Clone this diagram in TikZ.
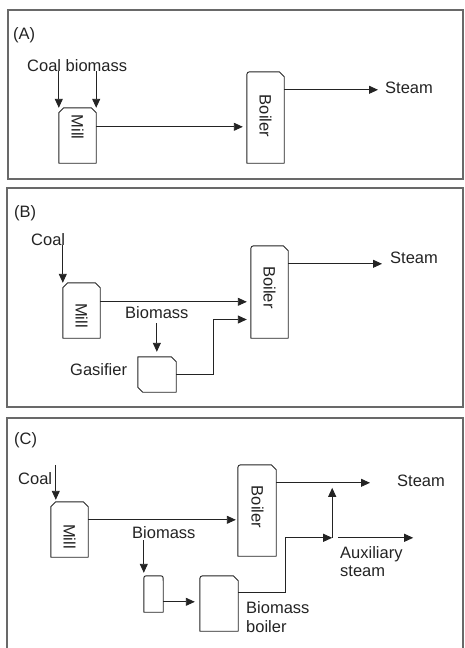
\documentclass[tikz,border=0pt]{standalone}
\usepackage{fontspec}
\setmainfont{Liberation Sans}
\usetikzlibrary{arrows.meta,calc,positioning}
\definecolor{framegray}{RGB}{105,105,105}
\definecolor{linegray}{RGB}{35,35,35}
\newcommand{\chamfertop}[1]{\draw[unitline] (#1.south west) -- ($(#1.north west)+(0,5)$) -- ($(#1.north west)+(5,0)$) -- ($(#1.north east)+(-5,0)$) -- ($(#1.north east)+(0,5)$) -- (#1.south east) -- cycle;}
\newcommand{\roundchamfer}[1]{\draw[unitline] (#1.south west) -- ($(#1.north west)+(0,6)$) .. controls (#1.north west) .. ($(#1.north west)+(6,0)$) -- ($(#1.north east)+(-5,0)$) -- ($(#1.north east)+(0,5)$) -- (#1.south east) -- cycle;}
\newcommand{\roundtop}[1]{\draw[unitline] (#1.south west) -- ($(#1.north west)+(0,5)$) .. controls (#1.north west) .. ($(#1.north west)+(5,0)$) -- ($(#1.north east)+(-5,0)$) .. controls (#1.north east) .. ($(#1.north east)+(0,5)$) -- (#1.south east) -- cycle;}
\newcommand{\gasshape}[1]{\draw[unitline] (#1.north west) -- ($(#1.north east)+(-5,0)$) -- ($(#1.north east)+(0,5)$) -- (#1.south east) -- ($(#1.south west)+(5,0)$) -- ($(#1.south west)+(0,-5)$) -- cycle;}

\begin{document}
\begin{tikzpicture}[x=1pt, y=-1pt,
    every node/.style={font=\fontsize{16.5}{18.5}\selectfont, text=linegray},
    panel/.style={draw=framegray, line width=1.2pt},
    unit/.style={rectangle, inner sep=0pt, minimum width=37pt},
    unitline/.style={draw=linegray, line width=0.9pt, line join=round},
    vtext/.style={rotate=-90, inner sep=0pt},
    tag/.style={inner sep=0pt, anchor=base west},
    flow/.style={draw=linegray, line width=0.9pt, -{Triangle[length=9pt,width=8pt]}}]
  \useasboundingbox (0,0) rectangle (464,648);
  \draw[panel] (8,10) rectangle (463,179);
  \draw[panel] (7,188) rectangle (463,407);
  \draw[panel] (7,650) -- (7,418) -- (463,418) -- (463,650);

  % (A)
  \node[tag] (labA) at (13,39.5) {(A)};
  \node[tag] (feedA) at (27,71) {Coal biomass};
  \node[unit, minimum height=55pt] (millA) at (77.5,135.5) {};
  \node[unit, minimum height=91pt] (boilerA) at (265.5,117.5) {};
  \chamfertop{millA}
  \roundchamfer{boilerA}
  \node[vtext] (millAtxt) at (77.5,127) {Mill};
  \node[vtext] (boilerAtxt) at (265.5,116) {Boiler};
  \node[tag] (steamA) at (385,93) {Steam};
  \draw[flow] (feedA.south -| millA.west) -- (millA.north west);
  \draw[flow] (feedA.south -| millA.east) -- (millA.north east);
  \coordinate (mAout) at ($(millA.north east)+(0,19)$);
  \coordinate (bAout) at ($(boilerA.north east)+(0,18)$);
  \draw[flow, shorten >=4pt] (mAout) -- (mAout -| boilerA.west);
  \draw[flow, shorten >=7pt] (bAout) -- (bAout -| steamA.west);

  % (B)
  \node[tag] (labB) at (14,217) {(B)};
  \node[tag] (coalB) at (31,245) {Coal};
  \node[unit, minimum height=55pt] (millB) at (81.5,310.5) {};
  \node[unit, minimum height=92pt] (boilerB) at (269.5,292) {};
  \node[unit, minimum width=38pt, minimum height=35pt] (gasB) at (157,374.5) {};
  \chamfertop{millB}
  \roundchamfer{boilerB}
  \gasshape{gasB}
  \node[vtext] (millBtxt) at (81.5,315.5) {Mill};
  \node[vtext] (boilerBtxt) at (269.5,287.5) {Boiler};
  \node[tag] (steamB) at (390,263) {Steam};
  \node[tag] (bioB) at (125,318) {Biomass};
  \node[tag] (gasBlab) at (70,375) {Gasifier};
  \draw[flow] (millB.north west |- coalB.south) -- (millB.north west);
  \coordinate (mBout) at ($(millB.north east)+(0,19)$);
  \coordinate (bBout) at ($(boilerB.north east)+(0,18)$);
  \coordinate (gBbend) at ($(gasB.east)+(37,-55)$);
  \draw[flow, shorten >=4pt] (mBout) -- (mBout -| boilerB.west);
  \draw[flow, shorten >=8pt] (bBout) -- (bBout -| steamB.west);
  \draw[flow, shorten <=5pt, shorten >=5pt] (bioB.south) -- (bioB.south |- gasB.north);
  \draw[flow, shorten >=4pt] (gasB.east) -| (gBbend) -- (gBbend -| boilerB.west);

  % (C)
  \node[tag] (labC) at (14,444) {(C)};
  \node[tag] (coalC) at (18,484) {Coal};
  \node[unit, minimum height=55pt] (millC) at (69.5,529.5) {};
  \node[unit, minimum width=38pt, minimum height=91pt] (boilerC) at (257,510.5) {};
  \node[unit, minimum width=19pt, minimum height=36pt] (prepC) at (153.5,594) {};
  \node[unit, minimum width=38pt, minimum height=55pt] (bboilC) at (219,603.5) {};
  \chamfertop{millC}
  \roundchamfer{boilerC}
  \roundtop{prepC}
  \roundchamfer{bboilC}
  \node[vtext] (millCtxt) at (69.5,536.5) {Mill};
  \node[vtext] (boilerCtxt) at (257.5,507) {Boiler};
  \node[tag] (steamC) at (397,486.5) {Steam};
  \node[tag] (bioC) at (132,538) {Biomass};
  \node[tag, anchor=north west, align=left] (bbC) at (246,601.5) {Biomass\\boiler};
  \node[tag, anchor=north west, align=left] (auxC) at (340,546) {Auxiliary\\steam};
  \coordinate (cCin) at ($(millC.north west)+(5,-37)$);
  \coordinate (mCout) at ($(millC.north east)+(0,18)$);
  \coordinate (bCout) at ($(boilerC.north east)+(0,18)$);
  \coordinate (pCout) at ($(prepC.north east)+(0,26)$);
  \coordinate (bbCout) at ($(bboilC.north east)+(0,17)$);
  \coordinate (riseC) at ($(bbCout)+(47,0)$);
  \coordinate (mixC) at ($(bbCout)+(94,-55)$);
  \coordinate (auxCend) at ($(mixC)+(81,0)$);
  \draw[flow, shorten >=2pt] (cCin) -- (cCin |- millC.north);
  \draw[flow, shorten >=2pt] (mCout) -- (mCout -| boilerC.west);
  \draw[flow, shorten >=27pt] (bCout) -- (bCout -| steamC.west);
  \draw[flow, shorten <=2pt, shorten >=3pt] (prepC.north west |- bioC.south) -- (prepC.north west);
  \draw[flow, shorten >=5pt] (pCout) -- (pCout -| bboilC.west);
  \draw[flow] (bbCout) -- (riseC) |- (mixC);
  \draw[flow, shorten >=5pt] (mixC) -- (mixC |- bCout);
  \draw[flow, shorten <=6pt] (mixC) -- (auxCend);
\end{tikzpicture}
\end{document}
